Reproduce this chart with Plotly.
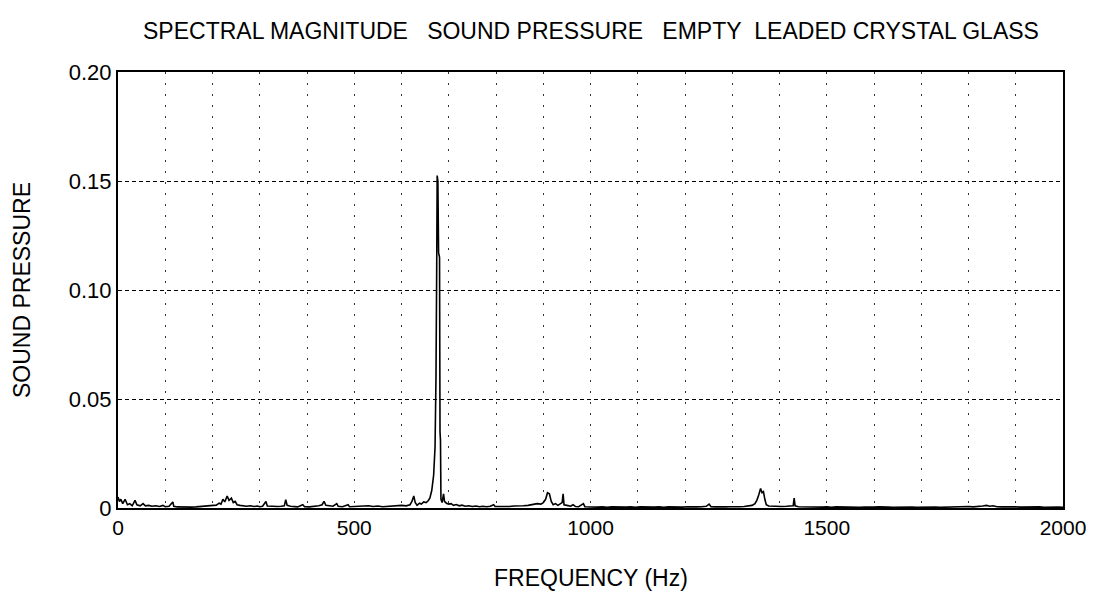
import plotly.graph_objects as go

freq_hz = [0, 3, 6, 10, 15, 20, 25, 30, 36, 40, 47, 53, 58, 65, 72, 80, 88, 95, 100, 108,
           116, 118, 125, 135, 145, 155, 165, 175, 185, 195, 202, 208, 214, 218, 222, 226, 231, 235, 240, 244,
           248, 252, 258, 265, 272, 280, 288, 295, 300, 306, 313, 316, 322, 330, 338, 345, 352, 355, 358, 365,
           372, 380, 391, 395, 405, 415, 425, 432, 436, 440, 448, 455, 463, 466, 475, 487, 490, 500, 510, 520,
           530, 540, 550, 560, 570, 580, 590, 600, 610, 618, 622, 626, 629, 633, 638, 642, 647, 652, 656, 660,
           664, 668, 671, 673, 674.5, 675.5, 677, 678.5, 680.5, 681.5, 682.5, 683.5, 686, 689, 691, 695, 700, 705, 710, 716,
           722, 728, 735, 742, 750, 758, 765, 772, 780, 788, 795, 798, 808, 818, 828, 838, 848, 858, 868, 878,
           887, 895, 900, 905, 909, 913, 917, 921, 926, 931, 936, 940, 942, 944, 950, 958, 963, 968, 975, 985,
           988, 995, 1005, 1015, 1025, 1035, 1045, 1055, 1065, 1075, 1085, 1095, 1105, 1115, 1125, 1135, 1145, 1155, 1165, 1175,
           1185, 1195, 1205, 1215, 1225, 1235, 1245, 1251, 1255, 1265, 1275, 1285, 1295, 1305, 1315, 1325, 1335, 1342, 1348, 1352,
           1356, 1360, 1363, 1366, 1369, 1372, 1377, 1385, 1395, 1405, 1415, 1425, 1429, 1431, 1433, 1440, 1450, 1460, 1470, 1480,
           1490, 1500, 1510, 1520, 1530, 1540, 1550, 1560, 1570, 1580, 1590, 1600, 1610, 1620, 1630, 1640, 1650, 1660, 1670, 1680,
           1690, 1700, 1710, 1720, 1730, 1740, 1750, 1760, 1770, 1780, 1790, 1800, 1810, 1820, 1830, 1838, 1845, 1852, 1860, 1870,
           1880, 1890, 1900, 1910, 1920, 1930, 1940, 1950, 1960, 1970, 1980, 1990, 2000]

sound_pressure = [0.0050, 0.0030, 0.0040, 0.0020, 0.0040, 0.0015, 0.0020, 0.0010, 0.0035, 0.0015, 0.0010, 0.0020, 0.0010, 0.0012, 0.0008, 0.0010, 0.0007, 0.0012, 0.0006, 0.0008,
                  0.0028, 0.0008, 0.0005, 0.0004, 0.0006, 0.0004, 0.0005, 0.0007, 0.0009, 0.0012, 0.0015, 0.0013, 0.0022, 0.0018, 0.0040, 0.0028, 0.0055, 0.0035, 0.0045, 0.0025,
                  0.0030, 0.0015, 0.0012, 0.0010, 0.0008, 0.0010, 0.0007, 0.0009, 0.0006, 0.0008, 0.0030, 0.0009, 0.0008, 0.0009, 0.0007, 0.0008, 0.0010, 0.0038, 0.0012, 0.0008,
                  0.0006, 0.0005, 0.0015, 0.0006, 0.0005, 0.0007, 0.0010, 0.0015, 0.0030, 0.0012, 0.0009, 0.0008, 0.0020, 0.0008, 0.0006, 0.0015, 0.0006, 0.0007, 0.0008, 0.0006,
                  0.0010, 0.0007, 0.0009, 0.0006, 0.0008, 0.0010, 0.0009, 0.0012, 0.0010, 0.0015, 0.0030, 0.0055, 0.0025, 0.0012, 0.0022, 0.0018, 0.0028, 0.0025, 0.0032, 0.0045,
                  0.0080, 0.0150, 0.0280, 0.0600, 0.1100, 0.1525, 0.1500, 0.1170, 0.1150, 0.0350, 0.0310, 0.0040, 0.0025, 0.0065, 0.0030, 0.0022, 0.0018, 0.0020, 0.0012, 0.0016,
                  0.0010, 0.0013, 0.0008, 0.0010, 0.0007, 0.0009, 0.0006, 0.0008, 0.0006, 0.0008, 0.0015, 0.0007, 0.0006, 0.0008, 0.0007, 0.0009, 0.0008, 0.0010, 0.0012, 0.0015,
                  0.0020, 0.0018, 0.0025, 0.0040, 0.0070, 0.0065, 0.0030, 0.0015, 0.0020, 0.0012, 0.0018, 0.0025, 0.0065, 0.0015, 0.0012, 0.0008, 0.0015, 0.0007, 0.0006, 0.0020,
                  0.0006, 0.0005, 0.0006, 0.0004, 0.0005, 0.0003, 0.0005, 0.0004, 0.0006, 0.0004, 0.0005, 0.0003, 0.0005, 0.0004, 0.0006, 0.0004, 0.0005, 0.0003, 0.0005, 0.0004,
                  0.0005, 0.0004, 0.0006, 0.0004, 0.0005, 0.0006, 0.0008, 0.0018, 0.0006, 0.0005, 0.0004, 0.0005, 0.0006, 0.0005, 0.0006, 0.0007, 0.0009, 0.0012, 0.0020, 0.0035,
                  0.0060, 0.0090, 0.0070, 0.0075, 0.0040, 0.0015, 0.0009, 0.0008, 0.0010, 0.0007, 0.0008, 0.0007, 0.0010, 0.0045, 0.0010, 0.0006, 0.0005, 0.0006, 0.0004, 0.0005,
                  0.0004, 0.0005, 0.0003, 0.0005, 0.0004, 0.0003, 0.0005, 0.0004, 0.0003, 0.0004, 0.0003, 0.0004, 0.0005, 0.0003, 0.0004, 0.0003, 0.0004, 0.0005, 0.0003, 0.0004,
                  0.0003, 0.0004, 0.0003, 0.0005, 0.0004, 0.0003, 0.0004, 0.0005, 0.0004, 0.0006, 0.0005, 0.0007, 0.0005, 0.0006, 0.0009, 0.0012, 0.0008, 0.0010, 0.0006, 0.0005,
                  0.0006, 0.0004, 0.0005, 0.0004, 0.0005, 0.0003, 0.0004, 0.0005, 0.0003, 0.0004, 0.0003, 0.0004, 0.0003]

x_tick_vals = list(range(0, 2001, 100))
x_tick_text = [str(v) if v % 500 == 0 else "" for v in x_tick_vals]
y_tick_vals = [0, 0.05, 0.10, 0.15, 0.20]
y_tick_text = ["0", "0.05", "0.10", "0.15", "0.20"]

title_text = "SPECTRAL MAGNITUDE\u00a0\u00a0\u00a0SOUND PRESSURE\u00a0\u00a0\u00a0EMPTY\u00a0\u00a0LEADED CRYSTAL GLASS"

fig = go.Figure()
fig.add_trace(go.Scatter(x=freq_hz, y=sound_pressure, mode="lines",
                         line=dict(color="black", width=1.6), showlegend=False))

family = "Liberation Sans, Arial, sans-serif"
x_tick_font = dict(family=family, size=21, color="black")
y_tick_font = dict(family=family, size=22, color="black")
title_font = dict(family=family, size=23, color="black")

fig.update_layout(
    width=1099, height=593,
    margin=dict(l=118, r=36, t=72, b=85),
    paper_bgcolor="white", plot_bgcolor="white",
    font=x_tick_font,
    showlegend=False,
    annotations=[
        dict(text=title_text, xref="paper", yref="paper", x=0.5, y=1, yshift=41,
             showarrow=False, xanchor="center", yanchor="middle", font=title_font),
        dict(text="FREQUENCY (Hz)", xref="paper", yref="paper", x=0.5, y=0, yshift=-70,
             showarrow=False, xanchor="center", yanchor="middle", font=title_font),
        dict(text="SOUND PRESSURE", xref="paper", yref="paper", x=0, y=0.5, xshift=-96,
             textangle=-90, showarrow=False, xanchor="center", yanchor="middle", font=title_font),
    ],
)
fig.update_xaxes(range=[0, 2000], tickvals=x_tick_vals, ticktext=x_tick_text,
                 showgrid=True, gridcolor="#333333", griddash="2px,9px", gridwidth=1,
                 showline=True, linecolor="black", linewidth=2, mirror=True,
                 ticks="", zeroline=False, tickfont=x_tick_font)
fig.update_yaxes(range=[0, 0.2], tickvals=y_tick_vals, ticktext=y_tick_text,
                 showgrid=True, gridcolor="black", griddash="4px,3px", gridwidth=1,
                 showline=True, linecolor="black", linewidth=2, mirror=True,
                 ticks="", zeroline=False, tickfont=y_tick_font)

fig.write_html("out.html")
